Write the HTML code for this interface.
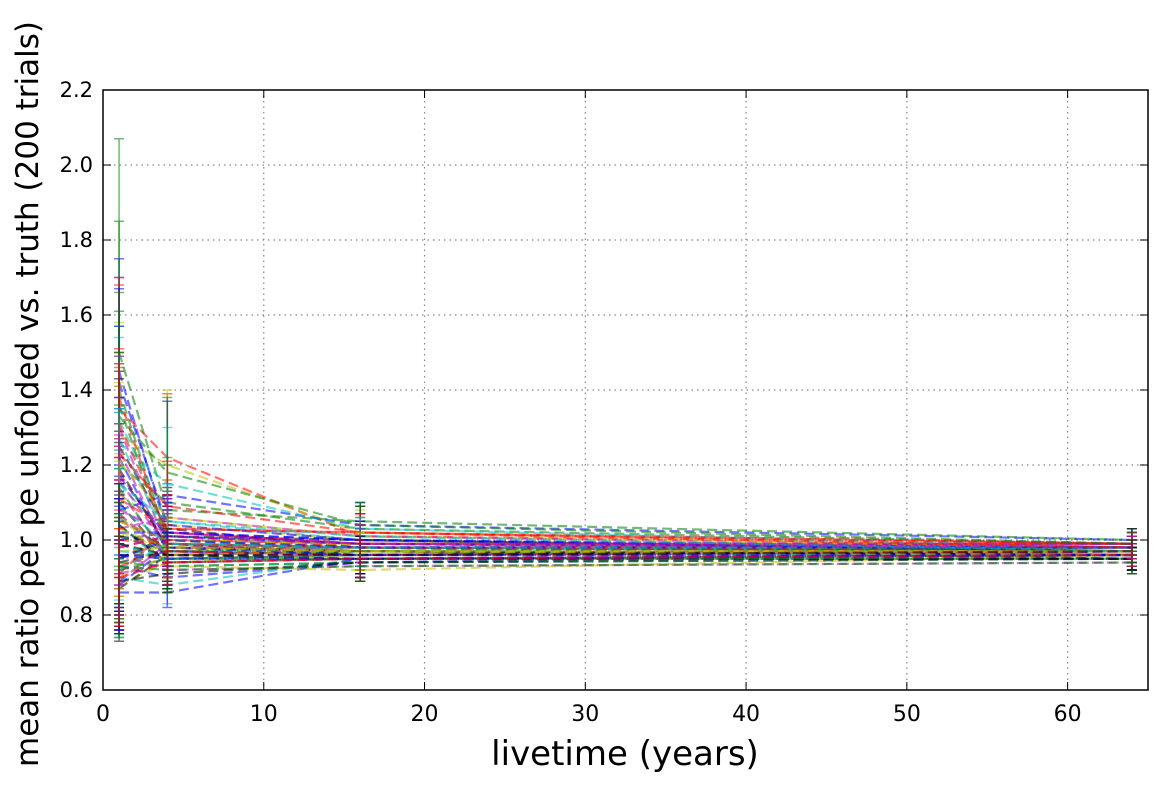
<!DOCTYPE html>
<html><head><meta charset="utf-8"><style>
body{margin:0;background:#fff;}
svg{display:block;font-family:"DejaVu Sans","Liberation Sans",sans-serif;}
</style></head><body>
<svg id="chart" width="1163" height="788" viewBox="0 0 1163 788" xmlns="http://www.w3.org/2000/svg">
<rect width="1163" height="788" fill="#fff"/>
<g id="grid"></g>
<g id="series"></g>
<rect x="103" y="90" width="1045" height="600" fill="none" stroke="#000" stroke-width="1.5"/>
<g id="ticks"></g>
<text x="625" y="765" font-size="34" text-anchor="middle">livetime (years)</text>
<text transform="translate(38,394) rotate(-90)" font-size="31" text-anchor="middle">mean ratio per pe unfolded vs. truth (200 trials)</text>
</svg>
<script>
const xPoints=[1,4,16,64];
const xTicks=[0,10,20,30,40,50,60];
const yTicks=[0.6,0.8,1.0,1.2,1.4,1.6,1.8,2.0,2.2];
const yTickLabels=["0.6","0.8","1.0","1.2","1.4","1.6","1.8","2.0","2.2"];
const v1=[1.45,1.40,1.35,1.32,1.30,1.28,1.25,1.22,1.20,1.18,1.15,1.13,1.12,1.10,1.08,1.06,1.05,1.04,1.03,1.02,1.01,1.00,0.99,0.98,0.97,0.96,0.95,0.94,0.93,0.92,0.91,0.90,0.89,0.88,0.87,0.86,1.50,1.38,1.26,1.16,1.07,0.95,
1.42,1.36,1.31,1.27,1.24,1.21,1.19,1.17,1.14,1.11,1.09,1.07,1.05,1.04,1.02,1.01,1.00,0.99,0.98,0.97,0.96,0.95,0.94,0.93,0.92,0.91,0.90,0.89,0.88,1.33,1.23,1.15,1.08,1.03,0.99,0.96,0.93,0.90];
const v4=[1.02,1.00,1.22,1.05,0.98,1.20,1.03,0.97,1.10,0.99,1.01,0.96,1.04,0.95,1.12,0.97,1.00,0.93,1.06,0.98,0.99,1.02,0.94,1.01,0.96,0.92,1.00,0.97,0.90,0.95,1.03,0.88,0.99,0.94,0.96,0.86,1.08,1.00,1.15,0.98,0.93,1.01,
1.04,0.99,1.02,1.00,0.97,1.06,0.98,1.01,0.95,1.03,0.99,0.96,1.00,0.94,1.02,0.97,0.99,0.95,1.01,0.98,0.96,1.00,0.93,0.97,0.99,0.94,0.96,0.91,0.98,1.18,1.09,1.05,1.02,0.98,0.96,0.95,0.92,0.94];
const v16=[0.99,0.98,1.01,1.00,0.97,1.02,0.98,0.96,1.03,0.97,0.99,0.95,1.00,0.96,1.04,0.98,0.97,0.94,1.01,0.99,0.96,1.00,0.95,0.98,0.97,0.93,0.99,0.96,0.94,0.97,1.02,0.95,0.98,0.96,0.97,0.95,1.05,0.99,1.03,0.98,0.92,1.00,
1.00,0.98,0.99,0.97,0.96,1.01,0.97,0.99,0.95,1.02,0.98,0.96,0.99,0.95,1.00,0.97,0.98,0.96,0.99,0.97,0.95,0.98,0.94,0.96,0.98,0.95,0.97,0.94,0.96,1.04,1.02,1.01,0.99,0.97,0.96,0.95,0.93,0.95];
const v64=[0.97,0.98,0.99,0.96,0.97,0.98,0.95,0.97,0.99,0.96,0.98,0.97,0.96,0.98,1.00,0.97,0.96,0.95,0.98,0.99,0.97,0.98,0.96,0.97,0.99,0.94,0.98,0.96,0.97,0.95,0.99,0.96,0.98,0.97,0.96,0.95,1.00,0.97,0.98,0.99,0.96,0.97,
0.98,0.97,0.99,0.96,0.97,0.98,0.96,0.98,0.95,0.99,0.97,0.96,0.98,0.96,0.97,0.98,0.97,0.96,0.99,0.97,0.95,0.98,0.96,0.97,0.98,0.96,0.97,0.95,0.96,0.99,0.98,0.97,0.98,0.96,0.97,0.96,0.94,0.96];
const e1=[0.30,0.45,0.35,0.25,0.40,0.30,0.25,0.35,0.30,0.28,0.32,0.25,0.30,0.35,0.30,0.25,0.20,0.30,0.22,0.25,0.28,0.20,0.25,0.18,0.22,0.20,0.15,0.18,0.16,0.14,0.15,0.15,0.12,0.12,0.12,0.10,0.57,0.30,0.28,0.25,0.20,0.15,
0.25,0.30,0.20,0.22,0.25,0.20,0.24,0.18,0.22,0.20,0.25,0.20,0.18,0.22,0.20,0.18,0.22,0.20,0.18,0.16,0.15,0.18,0.16,0.14,0.15,0.14,0.13,0.12,0.12,0.28,0.24,0.20,0.20,0.18,0.16,0.15,0.14,0.13];
const e4=[0.10,0.12,0.17,0.10,0.12,0.20,0.10,0.08,0.12,0.10,0.09,0.08,0.10,0.07,0.25,0.08,0.09,0.06,0.10,0.08,0.09,0.10,0.07,0.08,0.07,0.05,0.08,0.07,0.04,0.06,0.09,0.05,0.08,0.06,0.06,0.04,0.12,0.08,0.15,0.08,0.07,0.08,
0.10,0.08,0.09,0.08,0.07,0.10,0.08,0.09,0.07,0.09,0.08,0.07,0.08,0.07,0.09,0.07,0.08,0.07,0.08,0.07,0.06,0.08,0.06,0.07,0.08,0.06,0.07,0.05,0.07,0.20,0.12,0.10,0.09,0.08,0.07,0.07,0.06,0.06];
const e16=[0.06,0.05,0.06,0.07,0.05,0.06,0.05,0.05,0.07,0.05,0.06,0.04,0.06,0.05,0.06,0.05,0.05,0.04,0.06,0.05,0.05,0.06,0.04,0.05,0.05,0.04,0.05,0.05,0.04,0.05,0.07,0.05,0.05,0.05,0.05,0.05,0.05,0.05,0.06,0.05,0.03,0.09,
0.05,0.05,0.05,0.05,0.05,0.05,0.05,0.05,0.05,0.05,0.05,0.05,0.05,0.05,0.05,0.05,0.05,0.05,0.05,0.05,0.05,0.05,0.05,0.05,0.05,0.05,0.05,0.05,0.05,0.05,0.05,0.05,0.05,0.05,0.05,0.05,0.04,0.05];
const e64=[0.03,0.03,0.03,0.03,0.03,0.03,0.03,0.03,0.03,0.03,0.03,0.03,0.03,0.03,0.03,0.03,0.03,0.03,0.03,0.03,0.03,0.03,0.03,0.03,0.03,0.03,0.03,0.03,0.03,0.03,0.03,0.03,0.03,0.03,0.03,0.03,0.03,0.03,0.03,0.03,0.03,0.06,
0.03,0.03,0.03,0.03,0.03,0.03,0.03,0.03,0.03,0.03,0.03,0.03,0.03,0.03,0.03,0.03,0.03,0.03,0.03,0.03,0.03,0.03,0.03,0.03,0.03,0.03,0.03,0.03,0.03,0.03,0.03,0.03,0.03,0.03,0.03,0.03,0.03,0.03];
const colors=['#0000ff','#008000','#ff0000','#00bfbf','#bf00bf','#bfbf00','#000000'];
const NS="http://www.w3.org/2000/svg";
const X0=103,X1=1148,Y0=690,Y1=90;
function sx(v){return X0+(v-0)/(65-0)*(X1-X0);}
function sy(v){return Y0-(v-0.6)/(2.2-0.6)*(Y0-Y1);}
function mk(tag,attrs,parent){const e=document.createElementNS(NS,tag);for(const k in attrs)e.setAttribute(k,attrs[k]);parent.appendChild(e);return e;}
const grid=document.getElementById('grid'),ticks=document.getElementById('ticks'),ser=document.getElementById('series');
xTicks.forEach((t,i)=>{
  if(t>0){const g=mk('line',{x1:sx(t),x2:sx(t),y1:Y1,y2:Y0,stroke:'#888','stroke-dasharray':'1.5,4','stroke-width':1.2},grid);
  }
  mk('line',{x1:sx(t),x2:sx(t),y1:Y0,y2:Y0-8,stroke:'#000'},ticks);
  mk('line',{x1:sx(t),x2:sx(t),y1:Y1,y2:Y1+8,stroke:'#000'},ticks);
  const l=mk('text',{x:sx(t),y:Y0+31,'font-size':22,'text-anchor':'middle'},ticks);l.textContent=t;
  
});
yTicks.forEach((t,i)=>{
  if(i>0&&i<yTicks.length-1){const g=mk('line',{x1:X0,x2:X1,y1:sy(t),y2:sy(t),stroke:'#888','stroke-dasharray':'1.5,4','stroke-width':1.2},grid);
  }
  mk('line',{x1:X0,x2:X0+8,y1:sy(t),y2:sy(t),stroke:'#000'},ticks);
  mk('line',{x1:X1,x2:X1-8,y1:sy(t),y2:sy(t),stroke:'#000'},ticks);
  const l=mk('text',{x:X0-10,y:sy(t)+7,'font-size':21,'text-anchor':'end'},ticks);l.textContent=yTickLabels[i];
  
});
for(let s=0;s<v1.length;s++){
  const c=colors[s%colors.length];
  const vals=[v1[s],v4[s],v16[s],v64[s]],errs=[e1[s],e4[s],e16[s],e64[s]];
  const g=mk('g',{opacity:0.55},ser);
  
  const pts=xPoints.map((x,i)=>sx(x)+','+sy(vals[i])).join(' ');
  const pl=mk('polyline',{points:pts,fill:'none',stroke:c,'stroke-width':2.2,'stroke-dasharray':'10,5'},g);
  
  xPoints.forEach((x,i)=>{
    const px=sx(x),hi=sy(vals[i]+errs[i]),lo=sy(vals[i]-errs[i]);
    const eb=mk('path',{d:`M${px},${hi}V${lo}M${px-5},${hi}H${px+5}M${px-5},${lo}H${px+5}`,stroke:c,'stroke-width':1.5,fill:'none'},g);
    
  });
}
</script>
</body></html>
